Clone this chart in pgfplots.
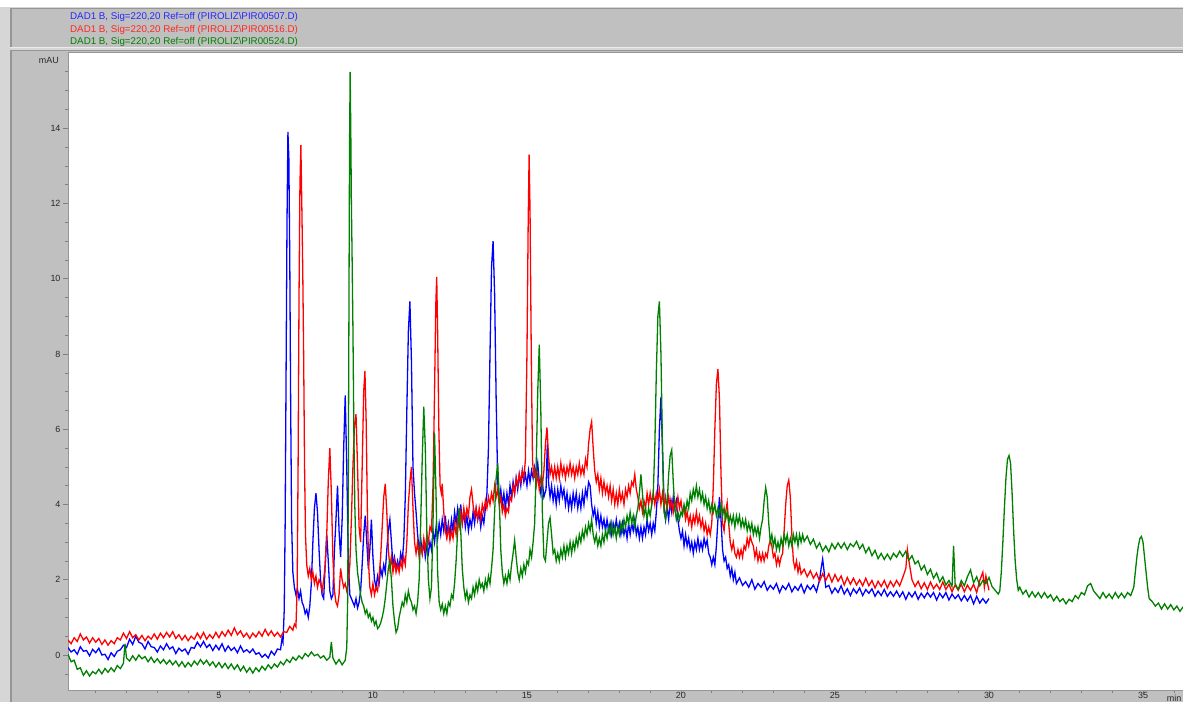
\documentclass[border=0pt]{standalone}
\usepackage{fontspec}
\setmainfont{Liberation Sans}
\usepackage{pgfplots}
\usepackage{pgfplotstable}
\pgfplotsset{compat=1.18}
\definecolor{cblue}{RGB}{0,0,255}
\definecolor{cred}{RGB}{255,0,0}
\definecolor{cgreen}{RGB}{0,128,0}
\definecolor{panel}{RGB}{192,192,192}
\definecolor{panelL}{RGB}{214,214,214}
\definecolor{darkline}{RGB}{150,150,150}
\definecolor{lightline}{RGB}{235,235,235}
\definecolor{labc}{RGB}{40,40,40}

\pgfplotstableread{
x y
0.1 0.20
0.2 0.08
0.3 0.14
0.4 0.02
0.5 0.22
0.6 0.10
0.7 0.12
0.8 -0.02
0.9 0.15
1.0 0.06
1.1 0.18
1.2 0.00
1.3 0.02
1.4 -0.12
1.5 0.06
1.6 -0.04
1.7 0.10
1.8 0.14
1.9 0.26
2.0 0.20
2.1 0.42
2.2 0.28
2.3 0.50
2.4 0.34
2.5 0.30
2.6 0.16
2.7 0.36
2.8 0.22
2.9 0.20
3.0 0.08
3.1 0.24
3.2 0.14
3.3 0.30
3.4 0.16
3.5 0.22
3.6 0.04
3.7 0.18
3.8 0.10
3.9 0.16
4.0 0.02
4.1 0.20
4.2 0.18
4.3 0.34
4.4 0.22
4.5 0.36
4.6 0.20
4.7 0.28
4.8 0.12
4.9 0.26
5.0 0.14
5.1 0.30
5.2 0.10
5.3 0.24
5.4 0.12
5.5 0.20
5.6 0.06
5.7 0.24
5.8 0.08
5.9 0.14
6.0 0.06
6.1 0.16
6.2 0.02
6.3 0.06
6.4 -0.06
6.5 0.02
6.6 -0.08
6.7 0.10
6.8 0.00
6.9 0.16
7.0 0.14
7.05 0.45
7.08 0.35
7.12 1.2
7.15 3.5
7.18 7.5
7.21 11.5
7.24 13.9
7.27 13.2
7.30 10.5
7.33 6.5
7.36 3.5
7.40 2.2
7.45 1.8
7.50 1.6
7.55 1.75
7.6 1.5
7.65 1.7
7.7 1.4
7.75 1.3
7.8 1.1
7.85 1.2
7.9 1.0
7.95 1.3
8.0 1.9
8.05 3.0
8.10 3.9
8.15 4.3
8.20 3.8
8.25 2.8
8.30 2.0
8.35 1.6
8.40 1.5
8.45 2.4
8.50 3.2
8.55 2.5
8.60 1.7
8.65 1.5
8.70 1.6
8.75 2.8
8.80 3.6
8.85 4.5
8.90 3.3
8.95 2.6
9.00 3.6
9.05 5.5
9.10 6.9
9.15 5.0
9.20 2.5
9.25 1.6
9.30 1.5
9.35 1.4
9.40 1.3
9.45 1.5
9.50 1.25
9.55 1.4
9.60 1.7
9.65 2.4
9.70 3.2
9.75 3.7
9.80 3.0
9.85 2.3
9.90 2.8
9.95 3.6
10.0 2.6
10.05 2.0
10.1 1.8
10.15 2.1
10.2 1.9
10.25 2.3
10.3 2.1
10.35 2.4
10.4 2.2
10.45 2.8
10.5 3.3
10.55 3.6
10.6 3.0
10.65 2.4
10.7 2.6
10.75 2.3
10.8 2.5
10.85 2.3
10.9 2.7
10.95 2.5
11.0 3.0
11.05 4.2
11.10 6.5
11.15 8.6
11.20 9.4
11.25 7.8
11.30 5.0
11.35 4.3
11.40 3.8
11.45 3.2
11.5 2.8
11.55 3.1
11.6 2.7
11.65 3.0
11.7 2.6
11.75 2.9
11.8 2.7
11.85 3.0
11.9 2.8
11.95 3.3
12.0 3.0
12.05 3.4
12.1 3.1
12.15 3.5
12.2 3.2
12.25 3.6
12.3 3.3
12.35 3.7
12.4 3.2
12.45 3.5
12.5 3.2
12.55 3.6
12.6 3.3
12.65 3.8
12.7 3.5
12.75 3.9
12.8 3.6
12.85 4.0
12.9 3.5
12.95 3.8
13.0 3.4
13.05 3.7
13.1 3.3
13.15 3.6
13.2 3.4
13.25 3.8
13.3 3.5
13.35 3.9
13.4 3.6
13.45 3.8
13.5 3.4
13.55 3.7
13.6 3.5
13.65 3.9
13.70 4.3
13.75 5.5
13.80 8.0
13.85 10.3
13.90 11.0
13.95 9.6
14.00 6.8
14.05 4.6
14.1 4.1
14.15 4.4
14.2 4.0
14.25 4.3
14.3 3.9
14.35 4.3
14.4 4.0
14.45 4.5
14.5 4.2
14.55 4.6
14.6 4.3
14.65 4.7
14.7 4.4
14.75 4.8
14.8 4.5
14.85 4.9
14.9 4.6
14.95 4.8
15.0 4.5
15.05 4.9
15.1 4.6
15.15 4.9
15.2 4.7
15.25 5.0
15.3 4.8
15.35 5.1
15.4 4.6
15.45 4.3
15.5 4.6
15.55 4.2
15.62 4.4
15.66 5.6
15.70 4.6
15.75 4.2
15.8 4.5
15.85 4.1
15.9 4.4
15.95 4.0
16.0 4.4
16.05 4.1
16.1 4.5
16.15 4.2
16.2 4.4
16.25 4.0
16.3 4.3
16.35 3.9
16.4 4.2
16.45 3.9
16.5 4.3
16.55 4.0
16.6 4.3
16.65 3.9
16.7 4.2
16.75 3.9
16.8 4.3
16.85 4.0
16.9 4.4
16.95 4.2
17.0 4.6
17.05 4.5
17.1 4.0
17.15 3.7
17.2 3.9
17.25 3.5
17.3 3.8
17.35 3.4
17.4 3.7
17.45 3.4
17.5 3.6
17.55 3.3
17.6 3.6
17.65 3.3
17.7 3.5
17.75 3.2
17.8 3.5
17.85 3.3
17.9 3.6
17.95 3.3
18.0 3.5
18.05 3.2
18.1 3.5
18.15 3.2
18.2 3.4
18.25 3.1
18.3 3.5
18.35 3.2
18.4 3.5
18.45 3.3
18.5 3.6
18.55 3.2
18.6 3.4
18.65 3.1
18.7 3.4
18.75 3.1
18.8 3.4
18.85 3.2
18.9 3.6
18.95 3.3
19.0 3.5
19.05 3.2
19.1 3.5
19.15 3.3
19.2 3.8
19.25 4.5
19.30 6.0
19.35 6.85
19.40 5.5
19.45 4.0
19.5 3.6
19.55 3.9
19.6 3.6
19.65 4.1
19.7 3.8
19.75 4.2
19.8 3.9
19.85 4.1
19.9 3.6
19.95 3.3
20.0 3.1
20.05 3.3
20.1 2.9
20.15 3.2
20.2 2.9
20.25 3.1
20.3 2.8
20.35 3.0
20.4 2.7
20.45 3.0
20.5 2.8
20.55 3.1
20.6 2.8
20.65 3.0
20.7 2.8
20.75 3.1
20.8 2.9
20.85 3.05
20.9 2.7
20.95 2.6
21.0 2.4
21.05 2.6
21.1 2.4
21.15 2.9
21.20 3.6
21.25 4.2
21.30 3.6
21.35 2.8
21.4 2.5
21.45 2.6
21.5 2.3
21.55 2.4
21.6 2.1
21.65 2.3
21.7 2.0
21.75 2.2
21.8 1.9
21.9 2.05
22.0 1.85
22.1 1.95
22.2 1.8
22.3 2.0
22.4 1.75
22.5 1.9
22.6 1.8
22.7 1.95
22.8 1.72
22.9 1.85
23.0 1.75
23.1 1.9
23.2 1.66
23.3 1.84
23.4 1.74
23.5 1.9
23.6 1.68
23.7 1.82
23.8 1.72
23.9 1.88
24.0 1.65
24.1 1.85
24.2 1.74
24.3 1.86
24.4 1.68
24.5 2.0
24.55 2.3
24.6 2.55
24.65 2.2
24.7 1.8
24.8 1.85
24.9 1.64
25.0 1.78
25.1 1.66
25.2 1.84
25.3 1.62
25.4 1.76
25.5 1.58
25.6 1.76
25.7 1.64
25.8 1.78
25.9 1.58
26.0 1.74
26.1 1.64
26.2 1.76
26.3 1.56
26.4 1.7
26.5 1.58
26.6 1.74
26.7 1.56
26.8 1.68
26.9 1.56
27.0 1.7
27.1 1.54
27.2 1.68
27.3 1.48
27.4 1.66
27.5 1.54
27.6 1.68
27.7 1.48
27.8 1.64
27.9 1.52
28.0 1.66
28.1 1.54
28.2 1.66
28.3 1.46
28.4 1.64
28.5 1.52
28.6 1.66
28.7 1.46
28.8 1.62
28.9 1.5
29.0 1.6
29.1 1.44
29.2 1.58
29.3 1.44
29.4 1.58
29.5 1.36
29.6 1.56
29.7 1.38
29.8 1.5
29.9 1.38
30.0 1.5
}\bluedata

\pgfplotstableread{
x y
0.1 0.40
0.2 0.30
0.3 0.46
0.4 0.36
0.5 0.56
0.6 0.40
0.7 0.48
0.8 0.32
0.9 0.46
1.0 0.34
1.1 0.44
1.2 0.28
1.3 0.40
1.4 0.26
1.5 0.38
1.6 0.30
1.7 0.46
1.8 0.40
1.9 0.58
2.0 0.44
2.1 0.62
2.2 0.46
2.3 0.54
2.4 0.40
2.5 0.52
2.6 0.38
2.7 0.50
2.8 0.42
2.9 0.56
3.0 0.42
3.1 0.58
3.2 0.46
3.3 0.60
3.4 0.48
3.5 0.62
3.6 0.44
3.7 0.54
3.8 0.40
3.9 0.52
4.0 0.38
4.1 0.50
4.2 0.42
4.3 0.58
4.4 0.44
4.5 0.60
4.6 0.42
4.7 0.54
4.8 0.44
4.9 0.60
5.0 0.46
5.1 0.62
5.2 0.50
5.3 0.66
5.4 0.52
5.5 0.72
5.6 0.54
5.7 0.64
5.8 0.48
5.9 0.58
6.0 0.44
6.1 0.58
6.2 0.48
6.3 0.62
6.4 0.50
6.5 0.68
6.6 0.52
6.7 0.64
6.8 0.50
6.9 0.60
7.0 0.48
7.1 0.62
7.2 0.60
7.3 0.76
7.4 0.66
7.45 0.82
7.50 0.75
7.54 1.8
7.57 5.0
7.60 9.5
7.63 12.5
7.66 13.55
7.69 12.0
7.72 10.3
7.75 8.0
7.78 5.0
7.81 3.2
7.85 2.4
7.9 2.1
7.95 2.3
8.0 2.0
8.05 2.2
8.1 1.9
8.15 2.1
8.2 1.8
8.25 2.0
8.3 1.9
8.35 1.7
8.40 2.0
8.45 2.4
8.50 3.2
8.55 4.6
8.60 5.5
8.65 4.3
8.70 2.6
8.75 1.7
8.8 1.4
8.85 1.3
8.9 1.6
8.95 2.3
9.0 2.0
9.05 1.8
9.1 1.9
9.15 1.7
9.2 1.9
9.25 2.4
9.30 3.6
9.35 5.0
9.40 6.1
9.45 6.4
9.50 5.0
9.55 3.4
9.60 3.0
9.65 5.0
9.70 7.0
9.74 7.55
9.78 6.2
9.82 3.8
9.86 2.4
9.9 1.8
9.95 1.6
10.0 1.9
10.05 1.6
10.1 1.8
10.15 1.7
10.2 2.1
10.25 2.6
10.30 3.4
10.35 4.2
10.40 4.55
10.45 3.8
10.50 2.8
10.55 2.3
10.6 2.6
10.65 2.2
10.7 2.5
10.75 2.2
10.8 2.4
10.85 2.2
10.9 2.5
10.95 2.3
11.0 2.6
11.05 2.4
11.10 3.0
11.15 4.0
11.20 4.6
11.25 5.0
11.30 3.9
11.35 3.0
11.4 2.7
11.45 3.0
11.5 2.6
11.55 2.9
11.6 2.7
11.65 3.1
11.7 2.8
11.75 3.2
11.8 3.0
11.85 3.4
11.9 3.3
11.95 4.5
12.00 7.0
12.04 9.3
12.07 10.05
12.10 8.6
12.14 6.0
12.18 4.5
12.22 4.3
12.25 4.55
12.30 3.8
12.35 3.3
12.4 3.1
12.45 3.4
12.5 3.05
12.55 3.3
12.6 3.1
12.65 3.5
12.7 3.2
12.75 3.6
12.8 3.4
12.85 3.8
12.9 3.5
12.95 3.9
13.0 3.6
13.05 3.9
13.1 3.7
13.15 4.2
13.2 4.4
13.25 4.0
13.3 3.7
13.35 3.9
13.4 3.6
13.45 3.9
13.5 3.6
13.55 4.0
13.6 3.8
13.65 4.1
13.7 3.9
13.75 4.2
13.8 4.0
13.85 4.3
13.9 4.1
13.95 4.5
14.0 4.2
14.05 4.4
14.1 4.0
14.15 4.2
14.2 3.8
14.25 4.0
14.3 3.7
14.35 3.9
14.4 3.8
14.45 4.2
14.5 4.1
14.55 4.5
14.6 4.3
14.65 4.7
14.7 4.5
14.75 4.8
14.8 4.6
14.85 4.9
14.9 4.7
14.95 5.2
15.00 8.0
15.04 11.5
15.07 13.3
15.10 11.8
15.14 8.0
15.18 5.2
15.22 4.7
15.25 4.9
15.3 4.5
15.35 4.8
15.4 4.4
15.45 4.7
15.5 4.5
15.55 4.9
15.60 5.6
15.65 6.05
15.70 5.3
15.75 4.8
15.8 5.0
15.85 4.7
15.9 5.0
15.95 4.7
16.0 5.0
16.05 4.7
16.1 5.1
16.15 4.8
16.2 5.0
16.25 4.7
16.3 5.0
16.35 4.8
16.4 5.1
16.45 4.8
16.5 5.0
16.55 4.7
16.6 5.0
16.65 4.8
16.7 5.1
16.75 4.8
16.8 5.0
16.85 4.8
16.9 5.2
16.95 5.0
17.00 5.6
17.05 6.0
17.10 6.2
17.15 5.5
17.20 4.9
17.25 4.6
17.3 4.8
17.35 4.4
17.4 4.7
17.45 4.3
17.5 4.6
17.55 4.3
17.6 4.5
17.65 4.2
17.7 4.5
17.75 4.1
17.8 4.4
17.85 4.0
17.9 4.3
17.95 4.0
18.0 4.4
18.05 4.1
18.1 4.3
18.15 4.0
18.2 4.4
18.25 4.2
18.3 4.5
18.35 4.3
18.4 4.6
18.45 4.5
18.5 4.8
18.55 4.4
18.6 4.2
18.65 3.9
18.7 4.1
18.75 3.8
18.8 4.1
18.85 3.9
18.9 4.3
18.95 4.0
19.0 4.3
19.05 4.0
19.1 4.3
19.15 4.0
19.2 4.3
19.25 4.1
19.3 4.4
19.35 4.0
19.4 4.3
19.45 3.9
19.5 4.2
19.55 3.9
19.6 4.2
19.65 3.9
19.7 4.1
19.75 3.8
19.8 4.1
19.85 3.9
19.9 4.2
19.95 3.9
20.0 4.1
20.05 3.8
20.1 3.9
20.15 3.6
20.2 3.8
20.25 3.5
20.3 3.7
20.35 3.4
20.4 3.7
20.45 3.5
20.5 3.8
20.55 3.5
20.6 3.7
20.65 3.4
20.7 3.6
20.75 3.3
20.8 3.5
20.85 3.2
20.9 3.4
20.95 3.2
21.00 3.5
21.05 4.5
21.10 6.0
21.15 7.2
21.20 7.6
21.25 6.8
21.30 4.8
21.35 3.5
21.4 3.3
21.45 3.8
21.50 4.05
21.55 3.5
21.6 3.0
21.65 2.8
21.7 3.0
21.75 2.7
21.8 2.6
21.85 2.8
21.9 2.6
21.95 2.8
22.0 2.6
22.05 2.9
22.1 2.8
22.15 3.1
22.2 2.9
22.25 3.15
22.3 3.0
22.35 2.9
22.4 2.6
22.45 2.8
22.5 2.5
22.55 2.7
22.6 2.5
22.65 2.7
22.7 2.5
22.75 2.7
22.8 2.6
22.85 2.9
22.9 3.05
22.95 2.9
23.0 2.6
23.05 2.7
23.1 2.4
23.15 2.6
23.2 2.4
23.25 2.6
23.30 2.7
23.35 3.3
23.40 4.0
23.45 4.5
23.50 4.65
23.55 4.2
23.60 3.2
23.65 2.5
23.7 2.3
23.75 2.5
23.8 2.2
23.85 2.4
23.9 2.15
24.0 2.28
24.1 2.08
24.2 2.24
24.3 2.04
24.4 2.18
24.5 1.96
24.6 2.16
24.7 1.98
24.8 2.16
24.9 1.94
25.0 2.14
25.1 1.96
25.2 2.1
25.3 1.86
25.4 2.06
25.5 1.88
25.6 2.04
25.7 1.86
25.8 2.0
25.9 1.84
26.0 2.04
26.1 1.84
26.2 1.98
26.3 1.78
26.4 1.96
26.5 1.82
26.6 1.98
26.7 1.78
26.8 1.96
26.9 1.82
27.0 1.98
27.1 1.84
27.2 2.06
27.3 2.3
27.35 2.8
27.4 2.5
27.5 2.0
27.6 1.82
27.7 1.96
27.8 1.76
27.9 1.92
28.0 1.74
28.1 1.94
28.2 1.76
28.3 1.88
28.4 1.74
28.5 1.94
28.6 1.74
28.7 1.88
28.8 1.68
28.9 1.86
29.0 1.72
29.1 1.88
29.2 1.68
29.3 1.86
29.4 1.72
29.5 1.88
29.6 1.66
29.7 1.98
29.8 2.2
29.85 1.8
29.9 2.1
30.0 1.72
}\reddata

\pgfplotstableread{
x y
0.1 0.02
0.2 -0.18
0.3 -0.14
0.4 -0.38
0.5 -0.34
0.6 -0.54
0.7 -0.42
0.8 -0.56
0.9 -0.44
1.0 -0.50
1.1 -0.38
1.2 -0.50
1.3 -0.36
1.4 -0.46
1.5 -0.34
1.6 -0.44
1.7 -0.28
1.8 -0.36
1.9 -0.22
1.95 0.30
2.0 -0.08
2.1 -0.16
2.2 -0.02
2.3 -0.14
2.4 0.00
2.5 -0.10
2.6 -0.04
2.7 -0.18
2.8 -0.06
2.9 -0.20
3.0 -0.10
3.1 -0.22
3.2 -0.12
3.3 -0.24
3.4 -0.14
3.5 -0.26
3.6 -0.16
3.7 -0.30
3.8 -0.18
3.9 -0.32
4.0 -0.20
4.1 -0.30
4.2 -0.16
4.3 -0.26
4.4 -0.12
4.5 -0.24
4.6 -0.14
4.7 -0.28
4.8 -0.18
4.9 -0.32
5.0 -0.20
5.1 -0.34
5.2 -0.22
5.3 -0.36
5.4 -0.24
5.5 -0.38
5.6 -0.26
5.7 -0.42
5.8 -0.30
5.9 -0.46
6.0 -0.34
6.1 -0.48
6.2 -0.34
6.3 -0.44
6.4 -0.30
6.5 -0.40
6.6 -0.26
6.7 -0.36
6.8 -0.24
6.9 -0.32
7.0 -0.18
7.1 -0.26
7.2 -0.12
7.3 -0.20
7.4 -0.06
7.5 -0.14
7.6 -0.02
7.7 -0.10
7.8 0.04
7.9 -0.04
8.0 0.08
8.1 -0.02
8.2 0.02
8.3 -0.08
8.4 -0.02
8.5 -0.14
8.6 -0.06
8.65 0.35
8.7 -0.08
8.8 -0.24
8.9 -0.12
9.0 -0.26
9.1 -0.14
9.15 0.2
9.18 1.5
9.20 4.5
9.22 9.0
9.24 13.5
9.26 15.5
9.28 14.0
9.30 12.0
9.32 10.8
9.35 8.7
9.38 6.0
9.41 4.0
9.45 2.8
9.5 2.2
9.55 1.9
9.6 1.6
9.65 1.4
9.7 1.3
9.75 1.1
9.8 1.2
9.85 1.0
9.9 1.1
9.95 0.9
10.0 1.0
10.05 0.8
10.1 0.9
10.15 0.7
10.2 0.75
10.25 0.85
10.3 1.0
10.35 1.2
10.4 1.5
10.45 1.9
10.5 2.3
10.55 2.5
10.6 2.0
10.65 1.3
10.7 0.9
10.75 0.6
10.8 0.7
10.85 1.0
10.9 1.2
10.95 1.4
11.0 1.3
11.05 1.6
11.1 1.4
11.15 1.7
11.2 1.5
11.25 1.4
11.3 1.2
11.35 1.3
11.4 1.1
11.45 1.4
11.5 2.0
11.55 3.5
11.60 5.2
11.65 6.6
11.70 5.5
11.75 3.3
11.8 2.0
11.85 1.5
11.9 1.8
11.95 3.5
12.00 5.9
12.05 4.2
12.1 2.2
12.15 1.4
12.2 1.2
12.25 1.35
12.3 1.1
12.35 1.3
12.4 1.1
12.45 1.4
12.5 1.3
12.55 1.6
12.6 1.5
12.65 1.9
12.7 2.5
12.75 3.3
12.80 3.9
12.85 3.3
12.9 2.3
12.95 1.8
13.0 1.5
13.05 1.7
13.1 1.4
13.15 1.6
13.2 1.5
13.25 1.8
13.3 1.6
13.35 1.9
13.4 1.7
13.45 2.0
13.5 1.8
13.55 1.9
13.6 1.7
13.65 2.0
13.7 1.8
13.75 2.1
13.8 1.9
13.85 2.3
13.9 2.8
13.95 3.8
14.00 4.7
14.05 5.1
14.10 4.2
14.15 2.8
14.2 2.2
14.25 1.9
14.3 2.1
14.35 1.9
14.4 2.2
14.45 2.0
14.5 2.4
14.55 2.7
14.6 3.05
14.65 2.6
14.7 2.2
14.75 2.0
14.8 2.3
14.85 2.1
14.9 2.4
14.95 2.2
15.0 2.5
15.05 2.4
15.1 2.8
15.15 2.6
15.2 3.0
15.25 3.5
15.30 5.0
15.35 7.0
15.40 8.25
15.45 6.5
15.50 3.8
15.55 2.6
15.6 2.5
15.65 3.0
15.7 3.5
15.75 3.65
15.8 3.2
15.85 2.7
15.9 2.8
15.95 2.5
16.0 2.7
16.05 2.5
16.1 2.8
16.15 2.6
16.2 2.9
16.25 2.6
16.3 2.9
16.35 2.7
16.4 3.0
16.45 2.7
16.5 3.0
16.55 2.8
16.6 3.1
16.65 2.9
16.7 3.2
16.75 3.0
16.8 3.3
16.85 3.1
16.9 3.4
16.95 3.2
17.0 3.5
17.05 3.3
17.1 3.6
17.15 3.2
17.2 3.0
17.25 3.2
17.3 2.9
17.35 3.1
17.4 2.9
17.45 3.2
17.5 3.0
17.55 3.3
17.6 3.1
17.65 3.4
17.7 3.2
17.75 3.5
17.8 3.2
17.85 3.4
17.9 3.1
17.95 3.4
18.0 3.2
18.05 3.5
18.1 3.3
18.15 3.6
18.2 3.4
18.25 3.7
18.3 3.5
18.35 3.8
18.4 3.5
18.45 3.7
18.5 3.4
18.55 3.7
18.6 3.9
18.65 4.3
18.70 4.8
18.75 4.3
18.8 3.7
18.85 3.9
18.9 3.6
18.95 3.9
19.0 3.7
19.05 4.0
19.1 4.3
19.15 5.5
19.20 7.5
19.25 9.0
19.30 9.4
19.35 8.0
19.40 5.5
19.45 3.8
19.5 3.6
19.55 4.0
19.60 4.8
19.65 5.3
19.70 5.45
19.75 4.6
19.8 3.9
19.85 3.6
19.9 3.8
19.95 3.6
20.0 3.8
20.05 3.7
20.1 4.0
20.15 3.8
20.2 4.1
20.25 3.9
20.3 4.3
20.35 4.1
20.4 4.4
20.45 4.2
20.5 4.5
20.55 4.2
20.6 4.4
20.65 4.1
20.7 4.3
20.75 4.0
20.8 4.2
20.85 3.9
20.9 4.1
20.95 3.8
21.0 4.0
21.05 3.8
21.1 4.0
21.15 3.7
21.2 3.9
21.25 3.7
21.3 4.0
21.35 3.7
21.4 3.9
21.45 3.6
21.5 3.8
21.55 3.5
21.6 3.7
21.65 3.5
21.7 3.7
21.75 3.4
21.8 3.7
21.85 3.5
21.9 3.7
21.95 3.4
22.0 3.6
22.05 3.4
22.1 3.6
22.15 3.3
22.2 3.5
22.25 3.3
22.3 3.5
22.35 3.2
22.4 3.4
22.45 3.2
22.5 3.4
22.55 3.1
22.6 3.4
22.65 3.6
22.70 4.1
22.75 4.45
22.80 4.2
22.85 3.5
22.9 3.0
22.95 3.2
23.0 2.9
23.05 3.1
23.1 2.8
23.15 3.0
23.2 2.8
23.25 3.1
23.3 2.9
23.35 3.2
23.4 3.0
23.45 3.2
23.5 2.9
23.55 3.1
23.6 2.9
23.65 3.2
23.7 3.0
23.75 3.2
23.8 2.9
23.85 3.2
23.9 3.0
23.95 3.2
24.0 3.02
24.1 3.16
24.2 2.94
24.3 3.08
24.4 2.84
24.5 2.98
24.6 2.76
24.7 2.9
24.8 2.74
24.9 2.96
25.0 2.82
25.1 2.98
25.2 2.84
25.3 2.98
25.4 2.8
25.5 2.96
25.6 2.88
25.7 3.02
25.8 2.82
25.9 2.94
26.0 2.72
26.1 2.86
26.2 2.64
26.3 2.78
26.4 2.56
26.5 2.7
26.6 2.54
26.7 2.68
26.8 2.54
26.9 2.7
27.0 2.6
27.1 2.76
27.2 2.62
27.3 2.76
27.4 2.52
27.5 2.64
27.6 2.42
27.7 2.5
27.8 2.26
27.9 2.38
28.0 2.14
28.1 2.28
28.2 2.04
28.3 2.18
28.4 1.94
28.5 2.08
28.6 1.86
28.7 1.98
28.8 1.82
28.85 2.9
28.9 1.9
29.0 1.74
29.1 1.98
29.2 1.84
29.3 2.08
29.4 2.26
29.5 1.92
29.6 2.08
29.7 1.84
29.8 1.98
29.9 1.9
30.0 2.06
30.1 1.82
30.2 1.72
30.3 1.62
30.35 1.7
30.4 2.2
30.45 3.0
30.50 3.9
30.55 4.7
30.60 5.2
30.65 5.3
30.70 5.1
30.75 4.3
30.80 3.3
30.85 2.5
30.9 2.0
30.95 1.72
31.0 1.8
31.1 1.62
31.2 1.72
31.3 1.54
31.4 1.68
31.5 1.54
31.6 1.66
31.7 1.52
31.8 1.66
31.9 1.52
32.0 1.6
32.1 1.44
32.2 1.56
32.3 1.42
32.4 1.5
32.5 1.36
32.6 1.48
32.7 1.42
32.8 1.58
32.9 1.5
33.0 1.66
33.1 1.6
33.2 1.84
33.3 1.9
33.4 1.7
33.5 1.6
33.6 1.5
33.7 1.66
33.8 1.52
33.9 1.62
34.0 1.5
34.1 1.66
34.2 1.52
34.3 1.64
34.4 1.52
34.5 1.66
34.6 1.58
34.7 1.8
34.75 2.2
34.8 2.6
34.85 2.9
34.9 3.1
34.95 3.15
35.0 3.0
35.05 2.6
35.1 2.2
35.15 1.8
35.2 1.5
35.3 1.42
35.4 1.3
35.5 1.38
35.6 1.22
35.7 1.36
35.8 1.22
35.9 1.34
36.0 1.2
36.1 1.3
36.2 1.16
36.3 1.28
}\greendata

\begin{document}
\begin{tikzpicture}[x=1bp,y=1bp]
% background panels (tikz y = 702 - pixel row)
\fill[panelL] (0,0) rectangle (1183,702);
\fill[white] (0,695) rectangle (1183,702);
\fill[panel] (10,654) rectangle (1183,694);
\draw[darkline, line width=1.5bp] (10.75,654) -- (10.75,693.25) -- (1183,693.25);
\draw[lightline, line width=1.2bp] (10,654.6) -- (1183,654.6);
\fill[panel] (10,0) rectangle (1183,652);
\draw[darkline, line width=1.5bp] (10.75,0) -- (10.75,651.25) -- (1183,651.25);
% header texts
\node[anchor=west, inner sep=0pt, text=cblue!85!white, font=\fontsize{9.8}{10}\selectfont] at (70,684.8) {DAD1 B, Sig=220,20 Ref=off (PIROLIZ\textbackslash PIR00507.D)};
\node[anchor=west, inner sep=0pt, text=cred!85!white, font=\fontsize{9.8}{10}\selectfont] at (70,672.3) {DAD1 B, Sig=220,20 Ref=off (PIROLIZ\textbackslash PIR00516.D)};
\node[anchor=west, inner sep=0pt, text=cgreen, font=\fontsize{9.8}{10}\selectfont] at (70,659.8) {DAD1 B, Sig=220,20 Ref=off (PIROLIZ\textbackslash PIR00524.D)};
% unit labels
\node[anchor=east, inner sep=0pt, text=labc, font=\fontsize{9}{10}\selectfont] at (59,642) {mAU};
\node[anchor=north east, inner sep=0pt, text=labc, font=\fontsize{9}{10}\selectfont] at (1181.5,7) {min};
\begin{axis}[
  at={(68bp,12bp)}, anchor=south west,
  scale only axis, width=1115bp, height=637bp,
  xmin=0.1, xmax=36.3, ymin=-0.93, ymax=16.0,
  axis background/.style={fill=white},
  axis x line*=bottom, axis y line*=left,
  axis line style={draw=darkline, line width=0.8bp},
  xtick={5,10,...,35}, minor xtick={1,2,...,36},
  ytick={0,2,...,14}, minor ytick={-0.5,0,...,15.5},
  tick align=outside,
  major tick length=5bp, minor tick length=3bp,
  tick style={draw=gray, line width=0.6bp},
  every tick label/.append style={text=labc, font=\fontsize{9}{10}\selectfont},
  /pgf/number format/assume math mode=true,
  xticklabel style={yshift=2.5bp, inner sep=0pt, anchor=north},
  yticklabel style={xshift=1bp},
  clip=true,
]
\addplot[cblue, line width=1.3bp, no marks] table[x=x,y=y] {\bluedata};
\addplot[cred, line width=1.3bp, no marks] table[x=x,y=y] {\reddata};
\addplot[cgreen, line width=1.3bp, no marks] table[x=x,y=y] {\greendata};
\end{axis}
\draw[darkline, line width=0.8bp] (68,649.6) -- (1183,649.6);
\pgfresetboundingbox
\useasboundingbox (0,0) rectangle (1183,702);
\end{tikzpicture}
\end{document}
